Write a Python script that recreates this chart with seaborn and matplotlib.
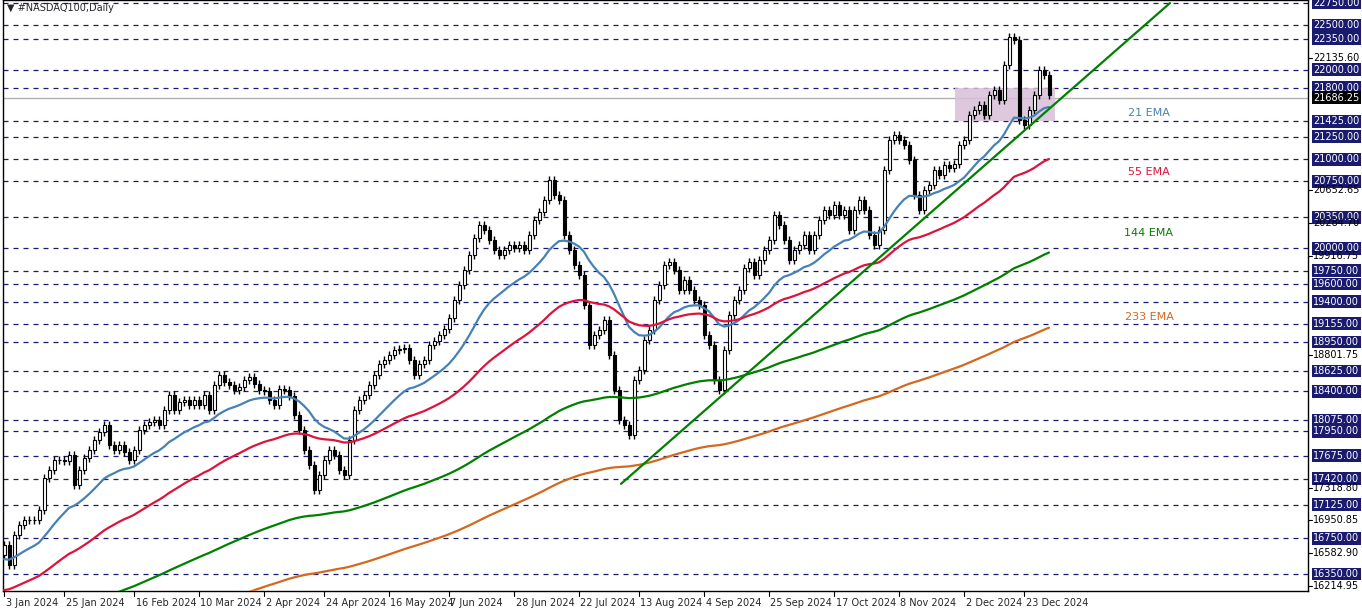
import numpy as np
import pandas as pd
import seaborn as sns
import matplotlib
matplotlib.use("Agg")
import matplotlib.pyplot as plt
import matplotlib.transforms as mtransforms

# daily closes (one per bar)
closes = [
    16675, 16450, 16790, 16900, 16955, 16950, 16960, 17070, 17425, 17515, 17625, 17630,
    17620, 17685, 17345, 17515, 17650, 17740, 17850, 17940, 18020, 17795, 17740, 17800, 17720, 17625,
    17740, 17965, 18020, 18050, 18075, 18020, 18190, 18355, 18190, 18280, 18300, 18245, 18300,
    18245, 18356, 18190, 18470, 18580, 18500, 18470, 18410, 18450, 18520, 18560, 18480, 18410,
    18400, 18300, 18244, 18420, 18412, 18350, 18130, 17960, 17740, 17570, 17290, 17460,
    17627, 17740, 17683, 17515, 17459, 17850, 18190, 18300, 18356, 18470, 18580, 18700, 18750,
    18800, 18860, 18870, 18880, 18750, 18580, 18700, 18750, 18917, 18960, 19030, 19100,
    19220, 19420, 19590, 19757, 19925, 20116, 20262, 20206, 20094, 19981, 19925, 19981, 20038,
    20000, 20038, 19981, 20150, 20318, 20407, 20542, 20766, 20598, 20542, 20150, 19981, 19813,
    19701, 19365, 18917, 19029, 19085, 19197, 18804, 18412, 18076, 18020, 17908, 18524,
    18640, 18973, 19085, 19421, 19589, 19813, 19847, 19757, 19533, 19645, 19533, 19421, 19365,
    19029, 18917, 18524, 18412, 18860, 19253, 19421, 19533, 19780, 19847, 19700, 19869, 19981,
    20094, 20374, 20262, 20094, 19869, 19981, 20038, 20150, 19981, 20150, 20318, 20430, 20374,
    20486, 20374, 20430, 20206, 20430, 20542, 20430, 20150, 20038, 20206, 20878, 21215, 21271,
    21215, 21159, 20990, 20598, 20430, 20654, 20710, 20878, 20822, 20934, 20901, 20950, 21159,
    21215, 21495, 21551, 21607, 21495, 21719, 21775, 21663, 22055, 22369, 22336, 21439,
    21383, 21550, 21719, 21999, 21943, 21720,
]
first_open = 16560

# date labels and the bar they sit on
date_labels = ["3 Jan 2024", "25 Jan 2024", "16 Feb 2024", "10 Mar 2024", "2 Apr 2024",
               "24 Apr 2024", "16 May 2024", "7 Jun 2024", "28 Jun 2024", "22 Jul 2024",
               "13 Aug 2024", "4 Sep 2024", "25 Sep 2024", "17 Oct 2024", "8 Nov 2024",
               "2 Dec 2024", "23 Dec 2024"]
date_bars = [0, 12, 26, 39, 52, 64, 77, 89, 102, 115, 127, 140, 153, 166, 179, 192, 204]

# EMA periods, colours and starting values (history before the window)
ema_periods = [21, 55, 144, 233]
ema_seeds = [16500, 16150, 15640, 15213]
ema_colors = ["#4682b4", "#dc143c", "#008000", "#d2691e"]
ema_names = ["21 EMA", "55 EMA", "144 EMA", "233 EMA"]
ema_label_y = [21520, 20860, 20170, 19230]

# horizontal levels (boxed labels) and plain axis labels
levels = [22750, 22500, 22350, 22000, 21800, 21425, 21250, 21000, 20750, 20350, 20000,
          19750, 19600, 19400, 19155, 18950, 18625, 18400, 18075, 17950, 17675, 17420,
          17125, 16750, 16350]
plain_labels = [22135.60, 20652.65, 20284.70, 19916.75, 18801.75, 17318.80,
                16950.85, 16582.90, 16214.95]
last_price = 21686.25

# trendline (bar, price) and consolidation zone
trend_bars = [123.4, 233.2]
trend_prices = [17360, 22750]
zone_bars = [190.2, 210.2]
zone_prices = [21425, 21800]

sns.set_style("white")

df = pd.DataFrame({"close": closes})
df["bar"] = np.arange(len(df))
df["open"] = df["close"].shift(1).fillna(first_open)
df["high"] = df[["open", "close"]].max(axis=1) + 45
df["low"] = df[["open", "close"]].min(axis=1) - 45

for p, s, name in zip(ema_periods, ema_seeds, ema_names):
    a = 2.0 / (p + 1)
    vals = []
    e = s
    for c in df["close"]:
        e = a * c + (1 - a) * e
        vals.append(e)
    df[name] = vals

fig = plt.figure(figsize=(13.62, 6.11), dpi=100)
ax = fig.add_axes([3 / 1362, 20 / 611, 1305 / 1362, 591 / 611])
ax.set_xlim(-0.2, 260.8)
ax.set_ylim(16159, 22784)

navy = "#1a1a6e"
for lv in levels:
    ax.axhline(lv, color=navy, lw=0.9, ls=(0, (4, 4)), zorder=1)
ax.axhline(last_price, color="#b0b0b0", lw=1, zorder=1)

ax.fill_between(zone_bars, zone_prices[0], zone_prices[1], color="#d8bfd8", alpha=0.85, zorder=1.5, lw=0)

up = df[df["close"] >= df["open"]]
dn = df[df["close"] < df["open"]]
ax.vlines(df["bar"], df["low"], df["high"], color="black", lw=1, zorder=3)
ax.bar(up["bar"], up["close"] - up["open"], bottom=up["open"], width=0.6,
       color="white", edgecolor="black", lw=0.8, zorder=4)
ax.bar(dn["bar"], dn["open"] - dn["close"], bottom=dn["close"], width=0.6,
       color="black", edgecolor="black", lw=0.8, zorder=4)

for name, col in zip(ema_names, ema_colors):
    sns.lineplot(data=df, x="bar", y=name, color=col, lw=1.6, ax=ax, zorder=5)
sns.lineplot(x=trend_bars, y=trend_prices, color="#008000", lw=1.6, ax=ax, zorder=5)

for name, col, yy in zip(ema_names, ema_colors, ema_label_y):
    ax.text(229, yy, name, color=col, fontsize=8, ha="center", va="center")

ax.set_xlabel("")
ax.set_ylabel("")
ax.set_xticks([])
ax.set_yticks([])
for sp in ax.spines.values():
    sp.set_color("black")
    sp.set_linewidth(1)

tr = mtransforms.blended_transform_factory(ax.transAxes, ax.transData)
for lv in levels:
    ax.text(1.004, lv, f"{lv:.2f}", transform=tr, fontsize=7, color="white", va="center",
            ha="left", bbox=dict(boxstyle="square,pad=0.15", fc=navy, ec="none"), clip_on=False)
for lv in plain_labels:
    ax.text(1.004, lv, f"{lv:.2f}", transform=tr, fontsize=7, color="black", va="center",
            ha="left", clip_on=False)
    ax.plot([1.0, 1.003], [lv, lv], transform=tr, color="black", lw=0.8, clip_on=False)
ax.text(1.004, last_price, f"{last_price:.2f}", transform=tr, fontsize=7, color="white",
        va="center", ha="left", bbox=dict(boxstyle="square,pad=0.15", fc="black", ec="none"),
        clip_on=False)

trx = mtransforms.blended_transform_factory(ax.transData, ax.transAxes)
for lab, b in zip(date_labels, date_bars):
    ax.plot([b, b], [0, -0.008], transform=trx, color="black", lw=0.8, clip_on=False)
    ax.text(b + 0.3, -0.012, lab, transform=trx, fontsize=7, ha="left", va="top")

ax.text(0.003, 0.995, "▼ #NASDAQ100,Daily", transform=ax.transAxes, fontsize=7,
        ha="left", va="top")

fig.savefig("out.png", dpi=100)
